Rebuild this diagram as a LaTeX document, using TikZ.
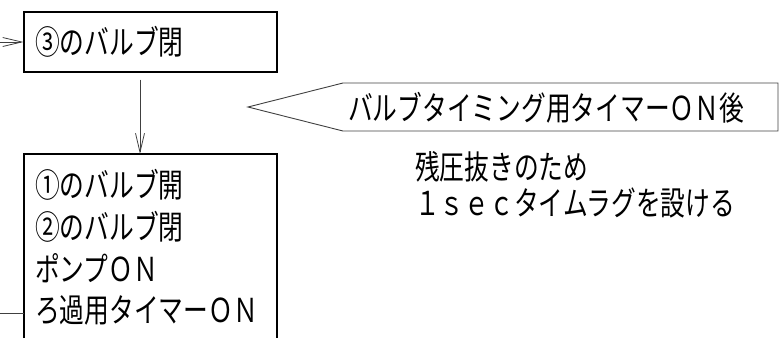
\documentclass[tikz,border=0pt]{standalone}
\usepackage{fontspec}
\newfontfamily\jp[FakeStretch=0.75]{Noto Sans CJK JP}
\usetikzlibrary{arrows.meta}
\begin{document}
\begin{tikzpicture}[x=1pt,y=-1pt,
  jptext/.style={font=\jp\fontsize{33pt}{41.7pt}\selectfont, inner sep=0pt, align=left},
  boxline/.style={draw=black, line width=1.1pt},
  arr/.style={draw=black!75, line width=0.8pt, -{Straight Barb[length=19pt,width=9pt]}},
  conn/.style={draw=black!75, line width=0.8pt}]
\useasboundingbox (0,0) rectangle (779,338);
% top box
\node[jptext, boxline, minimum height=60pt, text width=231pt, inner xsep=11pt, inner ysep=0pt] (t) at (150.5,42) {③のバルブ閉};
\coordinate (in1) at (0,42);
\draw[arr] (in1) -- (t.west);
% bottom box (open at the bottom)
\node[jptext, anchor=west] (b) at (35,247.5) {①のバルブ開\\②のバルブ閉\\ポンプＯＮ\\ろ過用タイマーＯＮ};
\coordinate (bt) at (140,154);
\draw[boxline] (24,338) |- (277,154) -- (277,338);
\draw[arr, shorten <=7pt] (t.south -| bt) -- (bt);
\coordinate (in2) at (0,313);
\coordinate (in2e) at (24,313);
\draw[conn] (in2) -- (in2e);
% callout
\node[jptext, anchor=west] (c) at (348,108) {バルブタイミング用タイマーＯＮ後};
\draw[conn, line width=0.9pt] (248,107) -- (343,83) -- (778,83) -- (778,131) -- (343,131) -- cycle;
% note
\node[jptext, anchor=west, font=\jp\fontsize{33pt}{36pt}\selectfont] (n) at (415,185) {残圧抜きのため\\ １ｓｅｃタイムラグを設ける};
\end{tikzpicture}
\end{document}
